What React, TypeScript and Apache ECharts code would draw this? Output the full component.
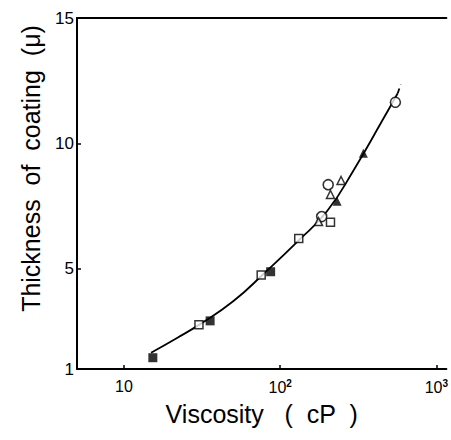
import React, { useEffect, useRef } from "react";
import * as echarts from "echarts";

// Viscosity (cP) vs thickness of coating (μ)
const filledSquares: [number, number][] = [[15.3, 1.45], [35.6, 2.92], [86.9, 4.88]];
const openSquares: [number, number][] = [[30.2, 2.76], [75.6, 4.75], [131.5, 6.21], [210, 6.85]];
const openCircles: [number, number][] = [[184.5, 7.08], [203, 8.35], [547, 11.64]];
const filledTriangles: [number, number][] = [[231.6, 7.69], [341, 9.61]];
const openTriangles: [number, number][] = [[176, 6.88], [210, 7.96], [245.5, 8.52]];

const curveX = [14.9, 22, 30, 50, 80, 130, 200, 300, 450, 566];
const curveY = [1.65, 2.25, 2.75, 3.7, 4.85, 6.1, 7.3, 9.0, 10.9, 12.0];
const dashX = [566, 592];
const dashY = [12.0, 12.35];

const yTicks = [1, 5, 10, 15];
const xTicks = [10, 100, 1000];

const FONT = "Liberation Sans, Arial, sans-serif";

export default function App() {
  const ref = useRef<HTMLDivElement>(null);
  useEffect(() => {
    if (!ref.current) return;
    const chart = echarts.init(ref.current, null, { renderer: "svg" });
    const pairs = (xs: number[], ys: number[]) => xs.map((x, i) => [x, ys[i]]);
    const axisLine = { show: true, lineStyle: { color: "#000", width: 2 } };
    chart.setOption({
      animation: false,
      backgroundColor: "#fff",
      grid: { left: 77, right: 0, top: 18, bottom: 71 },
      xAxis: [
        {
          type: "log",
          logBase: 10,
          min: 5,
          max: 1160,
          position: "bottom",
          axisLine,
          axisTick: { show: true, inside: true, length: 4, lineStyle: { color: "#000", width: 1.5 } },
          splitLine: { show: false },
          axisLabel: {
            showMinLabel: false,
            showMaxLabel: false,
            margin: 9,
            color: "#000",
            fontFamily: FONT,
            fontSize: 16,
            formatter: (v: number) => {
              if (!xTicks.some((t) => Math.abs(t - v) / t < 1e-6)) return "";
              const e = Math.round(Math.log10(v));
              return e === 1 ? "{b|10}" : `{b|10}{s|${e}}`;
            },
            rich: {
              b: { fontSize: 16, fontFamily: FONT, color: "#000" },
              s: { fontSize: 10, fontFamily: FONT, color: "#000", fontWeight: "bold", padding: [0, 0, 9, 0] },
            },
          },
          name: "Viscosity   (  cP  )",
          nameLocation: "middle",
          nameGap: 32,
          nameTextStyle: { fontFamily: FONT, fontSize: 25, color: "#000" },
        },
        {
          type: "log",
          logBase: 10,
          min: 5,
          max: 1160,
          position: "top",
          axisLine,
          axisTick: { show: false },
          axisLabel: { show: false },
          splitLine: { show: false },
        },
      ],
      yAxis: {
        type: "value",
        min: 1,
        max: 15,
        axisLine,
        axisTick: {
          show: true,
          inside: true,
          length: 4,
          customValues: yTicks,
          lineStyle: { color: "#000", width: 1.5 },
        },
        splitLine: { show: false },
        axisLabel: {
          customValues: yTicks,
          margin: 3,
          color: "#000",
          fontFamily: FONT,
          fontSize: 17,
        },
        name: "Thickness  of  coating  (μ)",
        nameLocation: "middle",
        nameGap: 34,
        nameRotate: 90,
        nameTextStyle: { fontFamily: FONT, fontSize: 25, color: "#000", padding: [0, 0, 0, 50] },
      },
      series: [
        {
          type: "line",
          data: pairs(curveX, curveY),
          smooth: true,
          symbol: "none",
          lineStyle: { color: "#000", width: 1.8 },
          z: 1,
        },
        {
          type: "line",
          data: pairs(dashX, dashY),
          symbol: "none",
          lineStyle: { color: "#000", width: 1.8, type: [5, 4] },
          z: 1,
        },
        {
          type: "scatter",
          data: filledSquares,
          symbol: "rect",
          symbolSize: 9,
          itemStyle: { color: "#000" },
          z: 3,
        },
        {
          type: "scatter",
          data: openSquares,
          symbol: "rect",
          symbolSize: 8,
          itemStyle: { color: "#fff", borderColor: "#000", borderWidth: 1.5 },
          z: 3,
        },
        {
          type: "scatter",
          data: openCircles,
          symbol: "circle",
          symbolSize: 10,
          itemStyle: { color: "#fff", borderColor: "#000", borderWidth: 1.6 },
          z: 3,
        },
        {
          type: "scatter",
          data: filledTriangles,
          symbol: "triangle",
          symbolSize: 9,
          itemStyle: { color: "#000" },
          z: 3,
        },
        {
          type: "scatter",
          data: openTriangles,
          symbol: "triangle",
          symbolSize: 8,
          itemStyle: { color: "#fff", borderColor: "#000", borderWidth: 1.5 },
          z: 3,
        },
      ],
    });
    return () => chart.dispose();
  }, []);
  return (
    <div
      ref={ref}
      style={{ position: "fixed", left: 0, top: 0, width: 451, height: 440, background: "#fff" }}
    />
  );
}
